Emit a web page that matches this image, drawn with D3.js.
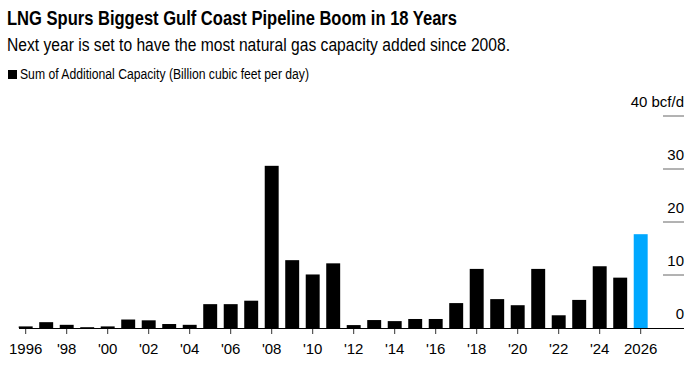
<!DOCTYPE html>
<html>
<head>
<meta charset="utf-8">
<script src="https://cdn.jsdelivr.net/npm/d3@7"></script>
<style>
  body { margin: 0; background: #fff; }
  text { font-family: "Liberation Sans", Arial, sans-serif; }
</style>
</head>
<body>
<div id="canvas"></div>
<script>
// Gulf Coast pipeline capacity added per year (bcf/d)
const years = d3.range(1996, 2027);
const capacity = [0.3, 1.1, 0.6, 0.15, 0.3, 1.6, 1.45, 0.75, 0.6, 4.5, 4.5, 5.15, 30.6,
    12.8, 10.1, 12.2, 0.55, 1.5, 1.3, 1.7, 1.7, 4.7, 11.15, 5.45, 4.3, 11.15, 2.4, 5.3,
    11.65, 9.5, 17.7];
const yTicks = [0, 10, 20, 30, 40];
const xTickYears = d3.range(1996, 2027, 2);

const width = 692;
const height = 368;

const data = years.map((yr, i) => ({ year: yr, value: capacity[i] }));

const svg = d3.select("#canvas")
    .append("svg")
    .attr("width", width)
    .attr("height", height);

// header
svg.append("text")
    .attr("x", 7).attr("y", 25)
    .attr("font-size", "20px")
    .attr("font-weight", "bold")
    .attr("fill", "#000")
    .attr("textLength", 450)
    .attr("lengthAdjust", "spacingAndGlyphs")
    .text("LNG Spurs Biggest Gulf Coast Pipeline Boom in 18 Years");

svg.append("text")
    .attr("x", 7).attr("y", 51)
    .attr("font-size", "17.5px")
    .attr("fill", "#000")
    .attr("textLength", 503)
    .attr("lengthAdjust", "spacingAndGlyphs")
    .text("Next year is set to have the most natural gas capacity added since 2008.");

// legend
svg.append("rect")
    .attr("x", 8).attr("y", 70)
    .attr("width", 9).attr("height", 9)
    .attr("fill", "#000");
svg.append("text")
    .attr("x", 20).attr("y", 79)
    .attr("font-size", "14px")
    .attr("fill", "#000")
    .attr("textLength", 289)
    .attr("lengthAdjust", "spacingAndGlyphs")
    .text("Sum of Additional Capacity (Billion cubic feet per day)");

// scales
const x = d3.scaleBand()
    .domain(years)
    .range([15.45, 650.95])
    .paddingInner(0.32)
    .paddingOuter(0.16);

const y = d3.scaleLinear()
    .domain([0, 40])
    .range([328, 116]);

// y grid marks on the right
const yAxis = svg.append("g").attr("class", "y-axis");
yAxis.selectAll("line")
    .data(yTicks.filter(t => t > 0))
    .join("line")
    .attr("x1", 663).attr("x2", 684)
    .attr("y1", d => y(d)).attr("y2", d => y(d))
    .attr("stroke", "#666")
    .attr("stroke-width", 1);
yAxis.selectAll("text")
    .data(yTicks)
    .join("text")
    .attr("x", 684)
    .attr("y", d => y(d) - 9)
    .attr("text-anchor", "end")
    .attr("font-size", "15px")
    .attr("fill", "#000")
    .text(d => d === 40 ? "40 bcf/d" : d);

// bars
svg.selectAll("rect.bar")
    .data(data)
    .join("rect")
    .attr("class", "bar")
    .attr("x", d => x(d.year))
    .attr("y", d => y(d.value))
    .attr("width", x.bandwidth())
    .attr("height", d => y(0) - y(d.value))
    .attr("fill", d => d.year === 2026 ? "#00a8ff" : "#000");

// x axis
const xAxis = svg.append("g").attr("class", "x-axis");
xAxis.append("line")
    .attr("x1", 19).attr("x2", 684)
    .attr("y1", y(0) + 0.5).attr("y2", y(0) + 0.5)
    .attr("stroke", "#000")
    .attr("stroke-width", 1.2);
xAxis.selectAll("line.tick")
    .data(xTickYears)
    .join("line")
    .attr("class", "tick")
    .attr("x1", d => x(d) + x.bandwidth() / 2)
    .attr("x2", d => x(d) + x.bandwidth() / 2)
    .attr("y1", y(0) + 1).attr("y2", y(0) + 6)
    .attr("stroke", "#333")
    .attr("stroke-width", 1);
xAxis.selectAll("text")
    .data(xTickYears)
    .join("text")
    .attr("x", d => x(d) + x.bandwidth() / 2)
    .attr("y", 354)
    .attr("text-anchor", "middle")
    .attr("font-size", "15px")
    .attr("fill", "#000")
    .text(d => (d === 1996 || d === 2026) ? d : "'" + String(d).slice(2));
</script>
</body>
</html>
